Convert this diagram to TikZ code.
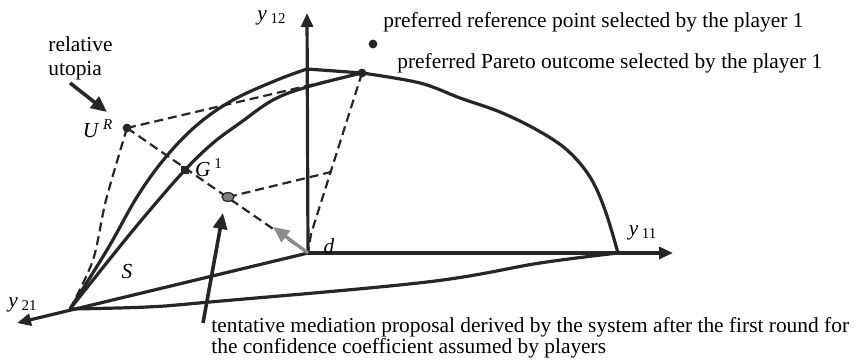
\documentclass[tikz,border=0pt]{standalone}
\usepackage{fontspec}
\setmainfont{Liberation Serif}
\usetikzlibrary{arrows.meta}
\newcommand{\ylab}[1]{\textit{y}\,\textsubscript{#1}}
\tikzset{
  axis/.style={
    -{Triangle[length=7pt,width=6pt]},
    line width=1.6pt,
    draw=black!85
  },
  front/.style={
    line width=1.6pt,
    draw=black!85,
    line join=round
  },
  guide/.style={
    line width=1.1pt,
    draw=black!85,
    dash pattern=on 4.5pt off 2.5pt
  },
  pointer/.style={
    -{Triangle[length=8pt,width=7pt]},
    line width=1.8pt,
    draw=black!85
  },
  drift/.style={
    pointer,
    draw=black!45,
    line width=1.6pt
  },
  dot/.style={
    fill=black!85
  },
  tag/.style={
    inner sep=0pt,
    font=\fontsize{10.7}{10.6}\selectfont
  },
  caption/.style={
    tag,
    anchor=west,
    align=left
  }
}

\begin{document}
\begin{tikzpicture}[x=0.5pt, y=-0.5pt]
  \useasboundingbox (0,0) rectangle (856,363);

  % points of the outcome space
  \coordinate (d) at (308,253);
  \coordinate (A) at (70,309);
  \coordinate (B) at (618,253);
  \coordinate (T) at (307,69);
  \coordinate (P) at (362,73);
  \coordinate (R) at (373,44);
  \coordinate (U) at (127,128);
  \coordinate (G) at (185,170);
  \coordinate (M) at (228,197);
  \coordinate (Q) at (331,172);
  \coordinate (D2) at (311,234);

  % axes
  \coordinate (x11) at (673,253);
  \coordinate (x12) at (307,13);
  \coordinate (x21) at (17,323);
  \draw[axis] (d) -- (x11);
  \draw[axis] (d) -- (x12);
  \draw[axis] (d) -- (x21);

  % agreement set and Pareto front
  \draw[front] plot[smooth, tension=0.6] coordinates {(A) (107,250) (137,197) (165,158) (197,125) (233,100) (277,80) (T)} -- (P);
  \draw[front] plot[smooth, tension=0.6] coordinates {(A) (117,250) (150,210) (G) (213,143) (240,123) (273,100) (307,87) (P)};
  \draw[front] plot[smooth, tension=0.6] coordinates {(P) (420,83) (460,98) (500,112) (537,130) (567,150) (590,177) (605,210) (B)};
  \draw[front] plot[smooth, tension=0.6] coordinates {(A) (147,307) (210,302) (427,282) (540,263) (B)};

  % construction lines
  \draw[guide] (U) -- (P);
  \draw[guide] (U) -- (d);
  \draw[guide] (M) -- (Q);
  \draw[guide] (P) -- (D2) -- (d);
  \draw[guide] plot[smooth] coordinates {(U) (106,200) (93,260) (A)};

  % marked points
  \fill[dot] (P) circle[radius=2.2pt];
  \fill[dot] (R) circle[radius=2.2pt];
  \fill[dot] (U) circle[radius=2.2pt];
  \fill[dot] (G) ++(-2pt,-2pt) rectangle ++(4pt,4pt);
  \filldraw[fill=black!50, draw=black!85, line width=0.6pt] (M) ellipse[x radius=3pt, y radius=2.2pt];

  \draw[drift] (d) -- (273,227) coordinate (Dtip);

  % labels
  \node[tag] (l11) at (643,233) {\ylab{11}};
  \node[tag] (l12) at (272,18) {\ylab{12}};
  \node[tag] (l21) at (23,305) {\ylab{21}};
  \node[tag] (ld) at (329,246) {\textit{d}};
  \node[tag] (lS) at (127,272) {\textit{S}};
  \node[tag] (lU) at (98,129) {\textit{U}\,\textsuperscript{\textit{R}}};
  \node[tag] (lG) at (209,168) {\textit{G}\,\textsuperscript{1}};

  \node[caption] (refnote) at (383,22) {preferred reference point selected by the player 1};
  \node[caption] (paretonote) at (397,63) {preferred Pareto outcome selected by the player 1};
  \node[tag, align=left, anchor=north west, font=\fontsize{10.7}{12}\selectfont] (utopianote) at (48,36) {relative\\utopia};
  \node[tag, align=left, anchor=north west] (mediationnote) at (211,317) {tentative mediation proposal derived by the system after the first round for\\the confidence coefficient assumed by players};

  % pointers
  \coordinate (utail) at (70,83);
  \coordinate (utip) at (107,112);
  \draw[pointer] (utail) -- (utip);
  \coordinate (mtail) at (203,323);
  \coordinate (mtip) at (223,213);
  \draw[pointer] (mtail) -- (mtip);
\end{tikzpicture}
\end{document}
